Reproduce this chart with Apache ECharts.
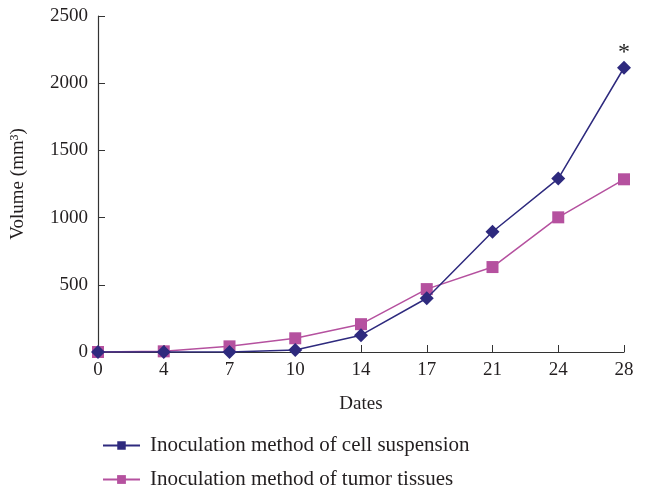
<!DOCTYPE html>
<html>
<head>
<meta charset="utf-8">
<script src="https://cdn.jsdelivr.net/npm/echarts@6/dist/echarts.min.js"></script>
<style>
html, body { margin: 0; padding: 0; background: #fff; }
#container1 { width: 645px; height: 487px; }
</style>
</head>
<body>
<div id="container1"></div>
<script>
var dates = ['0', '4', '7', '10', '14', '17', '21', '24', '28'];
var cellSuspension = [0, 0, 0, 15, 125, 400, 895, 1290, 2115];
var tumorTissues = [0, 5, 42, 102, 207, 468, 632, 1002, 1285];
var yTicks = [0, 500, 1000, 1500, 2000, 2500];

var nameCell = 'Inoculation method of cell suspension';
var nameTumor = 'Inoculation method of tumor tissues';

var font = 'Liberation Serif';
var axisColor = '#333333';
var textColor = '#231f20';

var dom = document.getElementById("container1");
var myChart = echarts.init(dom);

// star on the last point of cell suspension
var cellData = cellSuspension.map(function (v, i) {
    if (i === cellSuspension.length - 1) {
        return {
            value: v,
            label: {
                show: true,
                position: 'top',
                distance: -4,
                formatter: '*',
                fontFamily: font,
                fontSize: 24,
                color: '#222'
            }
        };
    }
    return v;
});

// legend of the diamond series is rotated so it shows a square, as in the figure
function legendBox(name, top, h, rotate) {
    return {
        left: 97,
        top: top,
        itemWidth: 37,
        itemHeight: h,
        itemGap: 8,
        symbolRotate: rotate,
        textStyle: { fontFamily: font, fontSize: 21, color: textColor, padding: [0, 0, 0, 5] },
        data: [name]
    };
}

var option = {
    color: ['#2e2a7e', '#b5519f'],
    textStyle: { fontFamily: font },
    grid: {
        left: 98,
        right: 21,
        top: 16,
        bottom: 135
    },
    legend: [
        legendBox(nameCell, 430, 15, 45),
        legendBox(nameTumor, 464, 11, 0)
    ],
    xAxis: {
        type: 'category',
        boundaryGap: false,
        data: dates,
        name: 'Dates',
        nameLocation: 'middle',
        nameGap: 43,
        nameTextStyle: { fontFamily: font, fontSize: 19, color: textColor },
        axisLine: { lineStyle: { color: axisColor, width: 1.2 } },
        axisTick: { inside: true, length: 7, lineStyle: { color: axisColor } },
        axisLabel: { fontFamily: font, fontSize: 19, color: textColor, margin: 9 },
        splitLine: { show: false }
    },
    yAxis: {
        type: 'value',
        min: 0,
        max: 2500,
        interval: 500,
        name: 'Volume (mm³)',
        nameLocation: 'middle',
        nameGap: 70,
        nameTextStyle: { fontFamily: font, fontSize: 19, color: textColor },
        axisLine: { show: true, lineStyle: { color: axisColor, width: 1.2 } },
        axisTick: { show: true, inside: true, length: 7, lineStyle: { color: axisColor } },
        axisLabel: {
            fontFamily: font, fontSize: 19, color: textColor, margin: 10,
            formatter: function (v) { return yTicks.indexOf(v) >= 0 ? String(v) : ''; }
        },
        splitLine: { show: false }
    },
    series: [
        {
            name: nameCell,
            type: 'line',
            symbol: 'diamond',
            symbolSize: 14,
            lineStyle: { width: 1.5 },
            z: 3,
            data: cellData
        },
        {
            name: nameTumor,
            type: 'line',
            symbol: 'rect',
            symbolSize: 12,
            lineStyle: { width: 1.5 },
            z: 2,
            data: tumorTissues
        }
    ]
};

if (option && typeof option === "object") {
    myChart.setOption(option, true);
}
</script>
</body>
</html>
